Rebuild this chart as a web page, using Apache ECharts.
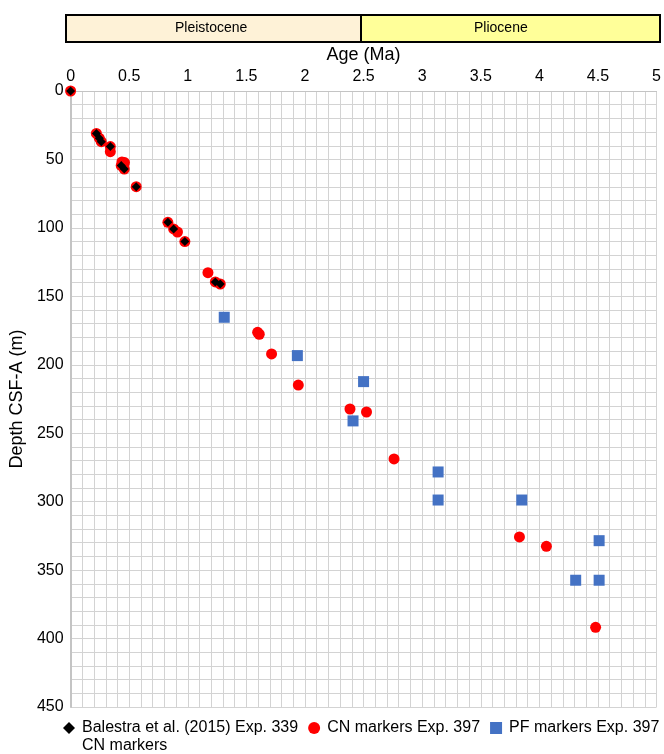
<!DOCTYPE html>
<html>
<head>
<meta charset="utf-8">
<script src="https://cdn.jsdelivr.net/npm/echarts@6/dist/echarts.min.js"></script>
<style>
html,body{margin:0;padding:0;background:#fff;}
#chart{width:664px;height:754px;}
</style>
</head>
<body>
<div id="chart"></div>
<script>
// Balestra et al. (2015) Exp. 339 CN markers
const balestraAge   = [0, 0.22, 0.245, 0.262, 0.339, 0.432, 0.458, 0.56, 0.83, 0.879, 0.975, 1.235, 1.277];
const balestraDepth = [0, 31, 34.5, 37, 40.6, 54.5, 57, 69.9, 95.9, 100.8, 110, 139.5, 141];

// CN markers Exp. 397
const cnAge   = [0, 0.22, 0.245, 0.262, 0.339, 0.339, 0.438, 0.46, 0.432, 0.458, 0.56, 0.83, 0.879, 0.912, 0.975, 1.172, 1.235, 1.277, 1.596, 1.61, 1.715, 1.943, 2.384, 2.525, 2.76, 3.83, 4.06, 4.48];
const cnDepth = [0, 31, 34.5, 37, 40.6, 44.3, 51.8, 52.3, 54.5, 57, 69.9, 95.9, 100.8, 103, 110, 132.7, 139.5, 141, 176.3, 177.7, 192.1, 214.8, 232.3, 234.5, 268.8, 325.8, 332.6, 391.8];

// PF markers Exp. 397
const pfAge   = [1.311, 1.935, 2.5, 2.41, 3.136, 3.136, 3.85, 4.51, 4.31, 4.51];
const pfDepth = [165.3, 193.3, 212.3, 241, 278.3, 298.8, 298.8, 328.5, 357.4, 357.4];

const seriesNames = ['Balestra et al. (2015) Exp. 339\nCN markers', 'CN markers Exp. 397', 'PF markers Exp. 397'];
const epochNames = ['Pleistocene', 'Pliocene'];

const zip = (a, b) => a.map((v, i) => [v, b[i]]);
const FONT = '"Liberation Sans", Arial, sans-serif';
const gridColor = '#d3d3d3';
const DIAMOND = 'path://M0,-1L1,0L0,1L-1,0Z';

const chart = echarts.init(document.getElementById('chart'), null, {renderer: 'canvas'});
chart.setOption({
  backgroundColor: '#fff',
  animation: false,
  textStyle: {fontFamily: FONT},
  grid: {left: 70, right: 4, top: 91, bottom: 47, containLabel: false},
  graphic: [
    {type: 'rect', left: 65, top: 14, shape: {width: 295, height: 27},
     style: {fill: '#FEF2D7', stroke: '#000', lineWidth: 2}},
    {type: 'rect', left: 360, top: 14, shape: {width: 299, height: 27},
     style: {fill: '#FFFF99', stroke: '#000', lineWidth: 2}},
    {type: 'text', top: 21, left: 175, style: {text: epochNames[0], fontSize: 14, fontFamily: FONT, fill: '#000'}},
    {type: 'text', top: 21, left: 474, style: {text: epochNames[1], fontSize: 14, fontFamily: FONT, fill: '#000'}}
  ],
  legend: {
    left: 63,
    top: 701,
    width: 650,
    padding: 0,
    itemWidth: 12,
    itemHeight: 12,
    itemGap: 10,
    textStyle: {fontSize: 16, color: '#000', fontFamily: FONT, lineHeight: 18, padding: [0, 0, 0, 2]},
    formatter: function (name) { return name === seriesNames[0] ? '\n' + name : name; },
    data: [
      {name: seriesNames[0], icon: DIAMOND},
      {name: seriesNames[1], icon: 'circle'},
      {name: seriesNames[2], icon: 'rect'}
    ]
  },
  xAxis: {
    type: 'value',
    position: 'top',
    min: 0, max: 5, interval: 0.5,
    name: 'Age (Ma)',
    nameLocation: 'middle',
    nameGap: 22,
    nameTextStyle: {fontSize: 18, color: '#000', fontFamily: FONT},
    axisLine: {show: true, lineStyle: {color: '#c4c4c4', width: 1}},
    axisTick: {show: false},
    axisLabel: {fontSize: 16, color: '#000', margin: 6, fontFamily: FONT},
    splitLine: {show: true, lineStyle: {color: gridColor, width: 1}},
    minorTick: {show: false, splitNumber: 5},
    minorSplitLine: {show: true, lineStyle: {color: gridColor, width: 1}}
  },
  yAxis: {
    type: 'value',
    inverse: true,
    min: 0, max: 450, interval: 50,
    name: 'Depth CSF-A (m)',
    nameLocation: 'middle',
    nameGap: 38,
    nameRotate: 90,
    nameTextStyle: {fontSize: 18, color: '#000', fontFamily: FONT},
    axisLine: {show: true, lineStyle: {color: '#c4c4c4', width: 2}},
    axisTick: {show: false},
    axisLabel: {fontSize: 16, color: '#000', margin: 7, fontFamily: FONT},
    splitLine: {show: true, lineStyle: {color: gridColor, width: 1}},
    minorTick: {show: false, splitNumber: 5},
    minorSplitLine: {show: true, lineStyle: {color: gridColor, width: 1}}
  },
  series: [
    {
      name: seriesNames[2], type: 'scatter', z: 2,
      symbol: 'rect', symbolSize: 11,
      itemStyle: {color: '#4472C4', opacity: 1},
      data: zip(pfAge, pfDepth)
    },
    {
      name: seriesNames[1], type: 'scatter', z: 3,
      symbol: 'circle', symbolSize: 11,
      itemStyle: {color: '#FF0000', opacity: 1},
      data: zip(cnAge, cnDepth)
    },
    {
      name: seriesNames[0], type: 'scatter', z: 4,
      symbol: DIAMOND, symbolSize: [9, 9],
      itemStyle: {color: '#000', opacity: 1},
      data: zip(balestraAge, balestraDepth)
    }
  ]
});
</script>
</body>
</html>
